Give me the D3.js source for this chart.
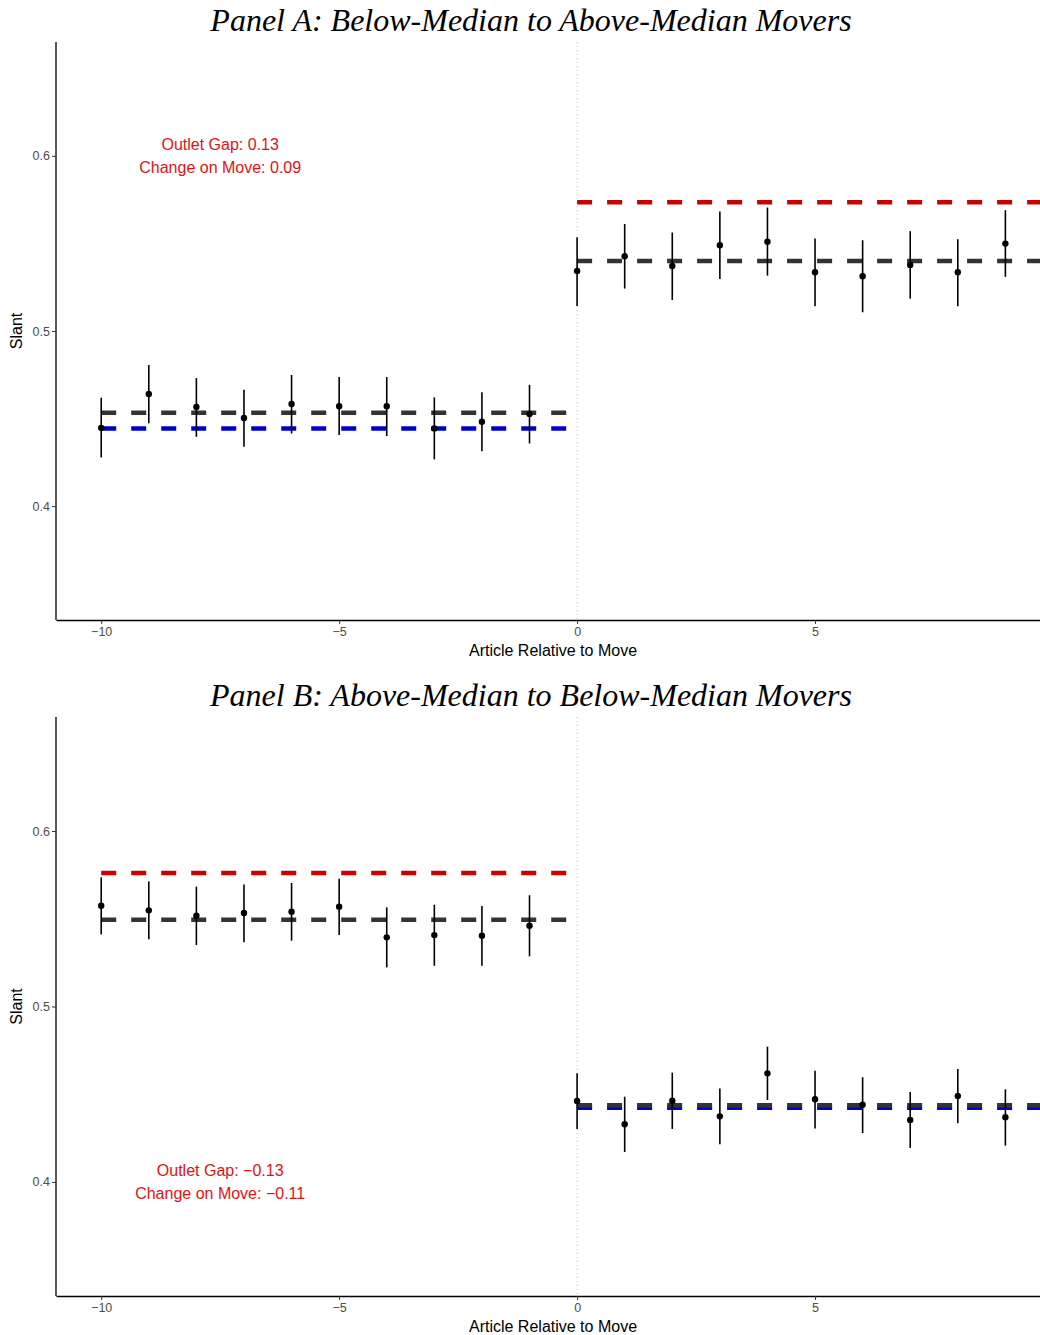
<!DOCTYPE html>
<html>
<head>
<meta charset="utf-8">
<script src="https://cdn.jsdelivr.net/npm/d3@7"></script>
<style>
  body { margin: 0; background: #fff; }
  svg { display: block; }
</style>
</head>
<body>
<svg id="chart" width="1040" height="1335"></svg>
<script>
// Article index relative to the move
const articles = [-10, -9, -8, -7, -6, -5, -4, -3, -2, -1, 0, 1, 2, 3, 4, 5, 6, 7, 8, 9];
const xTicks = [-10, -5, 0, 5];
const yTicks = [0.4, 0.5, 0.6];

// Panel A: below-median to above-median movers
const slantA = [0.4447, 0.4640, 0.4566, 0.4503, 0.4583, 0.4571, 0.4570, 0.4444, 0.4482, 0.4526,
                0.5343, 0.5427, 0.5371, 0.5490, 0.5510, 0.5335, 0.5313, 0.5377, 0.5335, 0.5499];
const lowA   = [0.4278, 0.4473, 0.4396, 0.4339, 0.4415, 0.4406, 0.4400, 0.4267, 0.4314, 0.4358,
                0.5143, 0.5242, 0.5177, 0.5297, 0.5316, 0.5141, 0.5107, 0.5185, 0.5141, 0.5309];
const highA  = [0.4619, 0.4806, 0.4731, 0.4665, 0.4749, 0.4737, 0.4737, 0.4621, 0.4650, 0.4693,
                0.5535, 0.5611, 0.5562, 0.5682, 0.5705, 0.5528, 0.5518, 0.5570, 0.5524, 0.5690];

// Panel B: above-median to below-median movers
const slantB = [0.5574, 0.5548, 0.5517, 0.5533, 0.5540, 0.5569, 0.5394, 0.5407, 0.5403, 0.5460,
                0.4462, 0.4329, 0.4463, 0.4374, 0.4619, 0.4471, 0.4440, 0.4353, 0.4490, 0.4369];
const lowB   = [0.5411, 0.5383, 0.5350, 0.5366, 0.5375, 0.5407, 0.5223, 0.5232, 0.5232, 0.5286,
                0.4302, 0.4171, 0.4302, 0.4215, 0.4467, 0.4304, 0.4279, 0.4194, 0.4334, 0.4207];
const highB  = [0.5736, 0.5713, 0.5683, 0.5696, 0.5704, 0.5728, 0.5565, 0.5580, 0.5573, 0.5634,
                0.4619, 0.4486, 0.4623, 0.4532, 0.4771, 0.4634, 0.4597, 0.4513, 0.4644, 0.4528];

// Reference (dashed) lines: [x start, x end, slant, colour]
const linesA = [
  [-10, -0.22, 0.4444, "#0000CD"],
  [-10, -0.22, 0.4533, "#333333"],
  [0, 10.5, 0.5735, "#CD0000"],
  [0, 10.5, 0.5400, "#333333"]
];
const linesB = [
  [-10, -0.22, 0.5761, "#CD0000"],
  [-10, -0.22, 0.5495, "#333333"],
  [0, 10.5, 0.4423, "#0000CD"],
  [0, 10.5, 0.4437, "#333333"]
];

// Annotation texts and where they sit (data units)
const notesA = ["Outlet Gap: 0.13", "Change on Move: 0.09"];
const notesB = ["Outlet Gap: \u22120.13", "Change on Move: \u22120.11"];
const noteX = -7.5;
const noteYA = 0.6034;
const noteYB = 0.4034;

const svg = d3.select("#chart");
const fmtX = d => d < 0 ? "\u2212" + Math.abs(d) : String(d);

function drawPanel(top, bottom, title, est, lo, hi, refLines, notes, noteY) {
  const g = svg.append("g");
  const left = 56, right = 1050.6;

  const x = d3.scaleLinear().domain([-10.95, 9.95]).range([left, right]);
  const y = d3.scaleLinear().domain([0.335, 0.665]).range([bottom, top]);

  // title
  g.append("text")
    .attr("x", 531)
    .attr("y", top - 11)
    .attr("text-anchor", "middle")
    .style("font-family", "'Liberation Serif', 'DejaVu Serif', serif")
    .style("font-style", "italic")
    .style("font-size", "32px")
    .text(title);

  // dotted vertical line at the move
  g.append("line")
    .attr("x1", x(0)).attr("x2", x(0))
    .attr("y1", y(0.665)).attr("y2", y(0.335))
    .attr("stroke", "#bdbdbd")
    .attr("stroke-width", 1)
    .attr("stroke-dasharray", "1,3");

  // dashed mean lines
  g.selectAll(".ref")
    .data(refLines)
    .enter()
    .append("line")
    .attr("class", "ref")
    .attr("x1", d => x(d[0]))
    .attr("x2", d => x(d[1]))
    .attr("y1", d => y(d[2]))
    .attr("y2", d => y(d[2]))
    .attr("stroke", d => d[3])
    .attr("stroke-width", 4.5)
    .attr("stroke-dasharray", "15,15");

  // error bars
  g.selectAll(".err")
    .data(articles)
    .enter()
    .append("line")
    .attr("class", "err")
    .attr("x1", d => x(d)).attr("x2", d => x(d))
    .attr("y1", (d, i) => y(lo[i]))
    .attr("y2", (d, i) => y(hi[i]))
    .attr("stroke", "#000")
    .attr("stroke-width", 1.6);

  // point estimates
  g.selectAll(".pt")
    .data(articles)
    .enter()
    .append("circle")
    .attr("class", "pt")
    .attr("cx", d => x(d))
    .attr("cy", (d, i) => y(est[i]))
    .attr("r", 3.2)
    .attr("fill", "#000");

  // annotation
  g.selectAll(".note")
    .data(notes)
    .enter()
    .append("text")
    .attr("class", "note")
    .attr("x", x(noteX))
    .attr("y", (d, i) => y(noteY) + i * 23)
    .attr("text-anchor", "middle")
    .attr("fill", "#DC1414")
    .style("font-family", "'Liberation Sans', Arial, sans-serif")
    .style("font-size", "16px")
    .text(d => d);

  // axes
  const xAxis = g.append("g")
    .attr("transform", `translate(0,${bottom})`)
    .call(d3.axisBottom(x).tickValues(xTicks).tickFormat(fmtX).tickSize(4).tickSizeOuter(0));
  const yAxis = g.append("g")
    .attr("transform", `translate(${left},0)`)
    .call(d3.axisLeft(y).tickValues(yTicks).tickFormat(d3.format(".1f")).tickSize(4).tickSizeOuter(0));

  [xAxis, yAxis].forEach(a => {
    a.attr("font-size", null).attr("font-family", null);
    a.select(".domain").attr("stroke", "#000").attr("stroke-width", 1.3);
    a.selectAll(".tick line").attr("stroke", "#333");
    a.selectAll(".tick text")
      .attr("fill", "#4D4D4D")
      .style("font-family", "'Liberation Sans', Arial, sans-serif")
      .style("font-size", "12.5px");
  });
  xAxis.selectAll(".tick text").attr("dy", "0.71em").attr("y", 7);
  yAxis.selectAll(".tick text").attr("x", -6);
  // y axis line should span the full panel
  yAxis.select(".domain").attr("d", `M0,${top}V${bottom}`);

  // axis titles
  g.append("text")
    .attr("x", 553)
    .attr("y", bottom + 36)
    .attr("text-anchor", "middle")
    .style("font-family", "'Liberation Sans', Arial, sans-serif")
    .style("font-size", "16px")
    .text("Article Relative to Move");

  g.append("text")
    .attr("transform", `translate(22,${(top + bottom) / 2}) rotate(-90)`)
    .attr("text-anchor", "middle")
    .style("font-family", "'Liberation Sans', Arial, sans-serif")
    .style("font-size", "16px")
    .text("Slant");
}

drawPanel(42, 620, "Panel A: Below-Median to Above-Median Movers", slantA, lowA, highA, linesA, notesA, noteYA);
drawPanel(717, 1296, "Panel B: Above-Median to Below-Median Movers", slantB, lowB, highB, linesB, notesB, noteYB);
</script>
</body>
</html>
